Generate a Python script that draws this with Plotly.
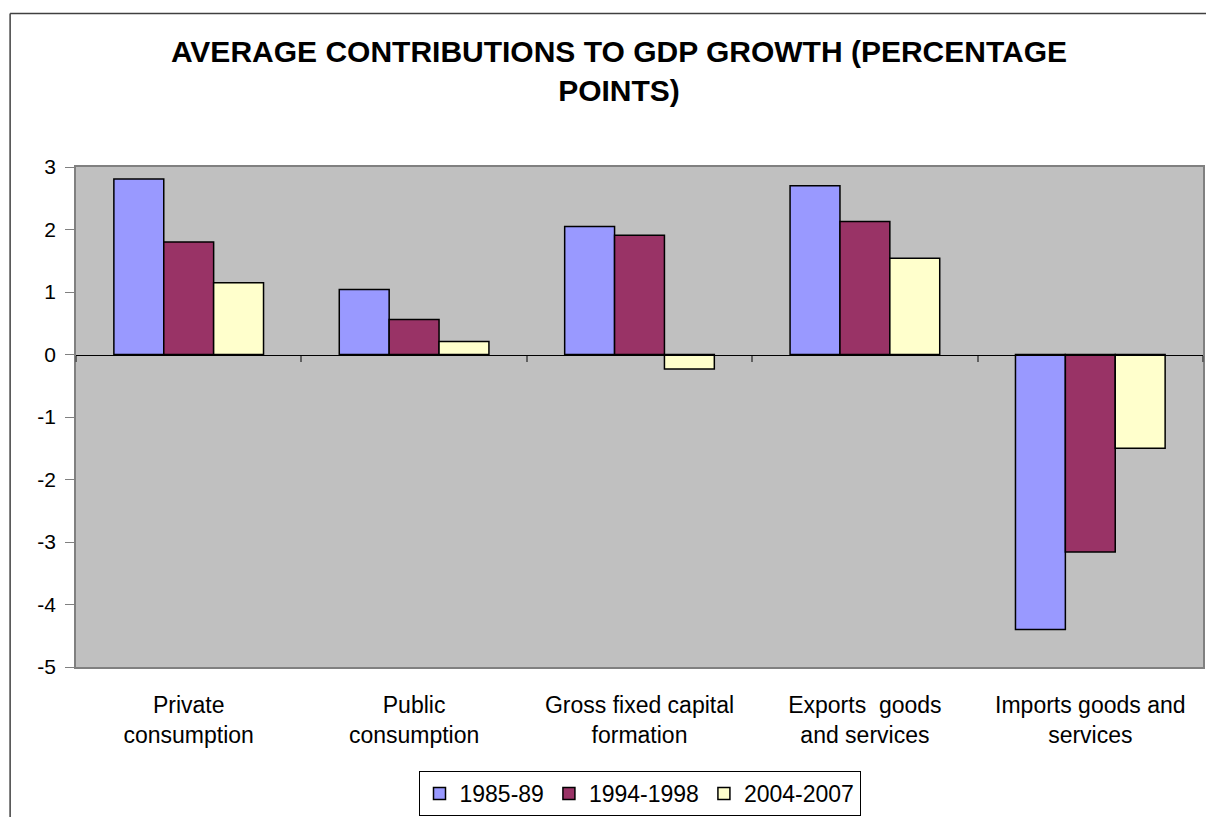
import plotly.graph_objects as go

categories = ["Private<br>consumption", "Public<br>consumption", "Gross fixed capital<br>formation",
              "Exports  goods<br>and services", "Imports goods and<br>services"]
series_names = ["1985-89", "1994-1998", "2004-2007"]
values_1985_89 = [2.81, 1.04, 2.05, 2.70, -4.40]
values_1994_1998 = [1.80, 0.56, 1.91, 2.13, -3.16]
values_2004_2007 = [1.15, 0.21, -0.23, 1.54, -1.50]
colors = ["#9999FF", "#993366", "#FFFFCC"]
y_ticks = [-5, -4, -3, -2, -1, 0, 1, 2, 3]
y_tick_labels = ["-5", "-4", "-3", "-2", "-1", "0", "1", "2", "3"]

FONT = "Arial, Liberation Sans, sans-serif"

fig = go.Figure()
for name, vals, col in zip(series_names, [values_1985_89, values_1994_1998, values_2004_2007], colors):
    fig.add_trace(go.Bar(x=categories, y=vals, name=name,
                         marker=dict(color=col, line=dict(color="black", width=1.5))))

# helper trace for the zero-crossing category axis
n = len(categories)
fig.add_trace(go.Scatter(x=[-0.5, n - 0.5], y=[0, 0], xaxis="x2", mode="lines",
                         line=dict(width=0), hoverinfo="skip", showlegend=False))

W, H = 1206, 817
L, T, B, R = 76, 167, 145, 1
ph = H - T - B
pw = W - L - R

fig.update_layout(
    width=W, height=H,
    margin=dict(l=L, r=R, t=T, b=B),
    paper_bgcolor="white", plot_bgcolor="#C0C0C0",
    font=dict(family=FONT, size=23, color="black"),
    title=dict(text="<b>AVERAGE CONTRIBUTIONS TO GDP GROWTH (PERCENTAGE<br>POINTS)</b>",
               x=619 / W, xanchor="center", y=1 - 62 / H, yanchor="top",
               font=dict(family=FONT, size=30, color="black")),
    barmode="group", bargap=0.336, bargroupgap=0,
    showlegend=True,
    legend=dict(orientation="h", x=0.5, xanchor="center", y=-(777 - 672) / ph, yanchor="top",
                bordercolor="black", borderwidth=1, bgcolor="white",
                font=dict(family=FONT, size=23), itemwidth=30, traceorder="normal"),
    xaxis=dict(type="category", showline=True, linecolor="#808080", linewidth=1.5,
               mirror=True, ticks="", showgrid=False, ticklabelstandoff=17,
               tickfont=dict(family=FONT, size=23)),
    xaxis2=dict(overlaying="x", anchor="free", position=5 / 8, side="bottom",
                range=[-0.5, n - 0.5], showline=True, linecolor="black", linewidth=1,
                tickmode="array", tickvals=[i + 0.5 for i in range(-1, n)],
                ticks="outside", ticklen=6, tickcolor="#606060", tickwidth=1.5,
                showticklabels=False, showgrid=False, zeroline=False),
    yaxis=dict(range=[-5, 3], tickmode="array", tickvals=y_ticks, ticktext=y_tick_labels,
               ticks="outside", ticklen=9, ticklabelstandoff=5,
               tickcolor="#808080", showline=True, linecolor="#808080", linewidth=1.5,
               mirror=True, showgrid=False, zeroline=False,
               tickfont=dict(family=FONT, size=21)),
    shapes=[
        dict(type="line", xref="paper", yref="paper",
             x0=(10 - L) / pw, x1=1.05, y0=(ph + T - 12) / ph, y1=(ph + T - 12) / ph,
             line=dict(color="#404040", width=1.5)),
        dict(type="line", xref="paper", yref="paper",
             x0=(10 - L) / pw, x1=(10 - L) / pw, y0=(ph + T - 12) / ph, y1=-0.4,
             line=dict(color="#404040", width=1.5)),
    ],
)

# remove the default 8px body margin so the figure fills the window exactly
fig.write_html("out.html", config={"displayModeBar": False},
               post_script="document.body.style.margin='0';")
